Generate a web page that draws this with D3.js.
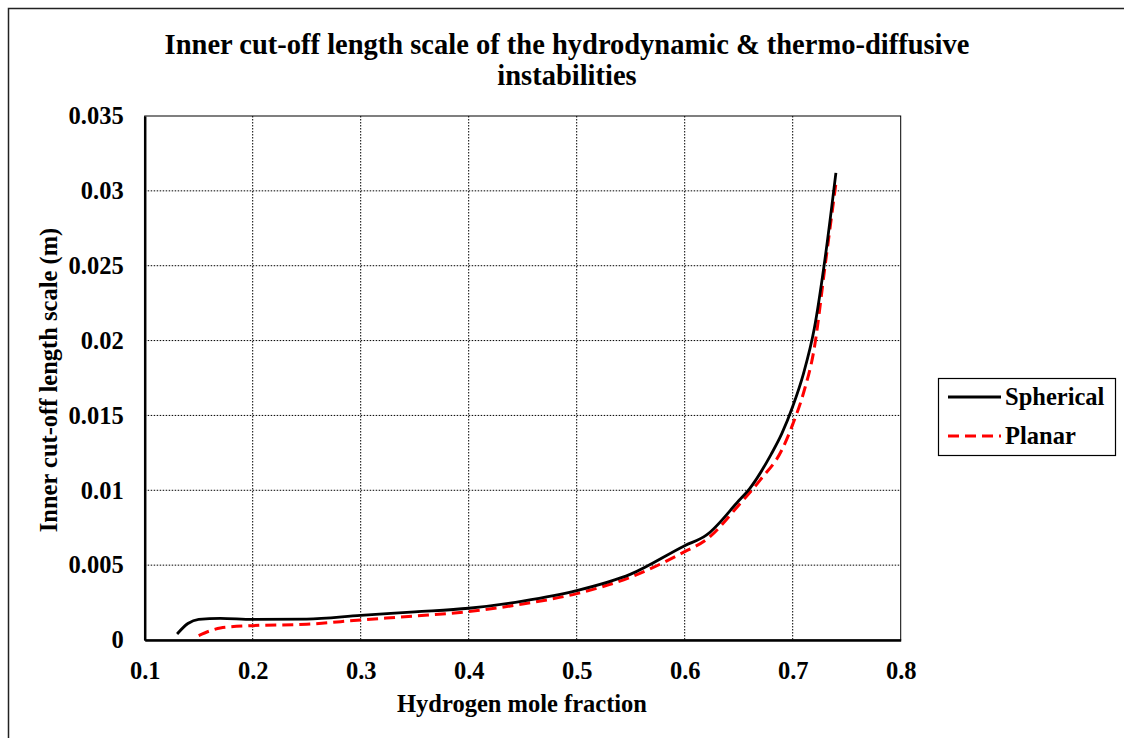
<!DOCTYPE html>
<html>
<head>
<meta charset="utf-8">
<script src="https://cdn.jsdelivr.net/npm/d3@7"></script>
<style>
  html, body { margin: 0; padding: 0; background: #fff; }
  svg { display: block; }
  text { font-family: "Liberation Serif", "Times New Roman", serif; font-weight: bold; fill: #000; }
</style>
</head>
<body>
<svg id="chart" width="1124" height="738"></svg>
<script>
// Hydrogen mole fraction (x) and inner cut-off length scale in metres (y)
const sphericalX = [0.13, 0.14, 0.15, 0.17, 0.20, 0.25, 0.30, 0.35, 0.40, 0.45, 0.50, 0.55, 0.60, 0.62, 0.65, 0.66, 0.68, 0.69, 0.70, 0.71, 0.72, 0.73, 0.74];
const sphericalY = [0.0004, 0.0011, 0.00138, 0.00145, 0.00138, 0.0014, 0.00165, 0.00188, 0.00212, 0.0026, 0.0033, 0.0044, 0.0063, 0.0070, 0.0093, 0.0101, 0.0124, 0.0138, 0.0156, 0.0178, 0.0208, 0.0255, 0.0312];

const planarX = [0.15, 0.16, 0.17, 0.20, 0.25, 0.30, 0.35, 0.40, 0.45, 0.50, 0.55, 0.60, 0.62, 0.65, 0.67, 0.69, 0.70, 0.71, 0.72, 0.73, 0.74];
const planarY = [0.0003, 0.0006, 0.0008, 0.00096, 0.00105, 0.00134, 0.0016, 0.0019, 0.0024, 0.0031, 0.0042, 0.0059, 0.0067, 0.0090, 0.0107, 0.0127, 0.0144, 0.0165, 0.0195, 0.0250, 0.0305];

const xTicks = [0.1, 0.2, 0.3, 0.4, 0.5, 0.6, 0.7, 0.8];
const yTicks = [0, 0.005, 0.01, 0.015, 0.02, 0.025, 0.03, 0.035];
const yTickLabels = ["0", "0.005", "0.01", "0.015", "0.02", "0.025", "0.03", "0.035"];

const seriesNames = ["Spherical", "Planar"];
const titleLines = ["Inner cut-off length scale of the hydrodynamic & thermo-diffusive", "instabilities"];
const xTitle = "Hydrogen mole fraction";
const yTitle = "Inner cut-off length scale (m)";

const svg = d3.select("#chart");

// outer chart frame
svg.append("rect")
  .attr("x", 8.5).attr("y", 8.5).attr("width", 1130).attr("height", 740)
  .attr("fill", "none").attr("stroke", "#222").attr("stroke-width", 1.5);

const plot = { left: 144.7, right: 900.7, top: 116, bottom: 640 };

const x = d3.scaleLinear().domain([0.1, 0.8]).range([plot.left, plot.right]);
const y = d3.scaleLinear().domain([0, 0.035]).range([plot.bottom, plot.top]);

// dotted grid
const grid = svg.append("g");
grid.selectAll("line.vx").data(xTicks.slice(1, -1)).join("line")
  .attr("x1", d => x(d)).attr("x2", d => x(d))
  .attr("y1", plot.top).attr("y2", plot.bottom)
  .attr("stroke", "#000").attr("stroke-width", 1).attr("stroke-dasharray", "1.5,1.5");
grid.selectAll("line.hy").data(yTicks.slice(1, -1)).join("line")
  .attr("y1", d => y(d)).attr("y2", d => y(d))
  .attr("x1", plot.left).attr("x2", plot.right)
  .attr("stroke", "#000").attr("stroke-width", 1).attr("stroke-dasharray", "1.5,1.5");

// plot area border
svg.append("rect")
  .attr("x", plot.left).attr("y", plot.top)
  .attr("width", plot.right - plot.left).attr("height", plot.bottom - plot.top)
  .attr("fill", "none").attr("stroke", "#000").attr("stroke-width", 1);

// axes
const xAxis = d3.axisBottom(x).tickValues(xTicks).tickSize(0)
  .tickFormat(d3.format(".1f"));
const gx = svg.append("g").attr("transform", `translate(0,${plot.bottom})`).call(xAxis);
gx.select(".domain").attr("stroke", "#000").attr("stroke-width", 2.5);
gx.selectAll("text").style("font-size", "24.5px").attr("y", 39).attr("dy", 0);

const yAxis = d3.axisLeft(y).tickValues(yTicks).tickSize(0).tickPadding(21)
  .tickFormat((d, i) => yTickLabels[i]);
const gy = svg.append("g").attr("transform", `translate(${plot.left},0)`).call(yAxis);
gy.select(".domain").attr("stroke", "#000").attr("stroke-width", 2.5);
gy.selectAll("text").style("font-size", "24.5px");

// series lines
const line = d3.line().x(d => x(d[0])).y(d => y(d[1])).curve(d3.curveMonotoneX);
const sphericalData = sphericalX.map((v, i) => [v, sphericalY[i]]);
const planarData = planarX.map((v, i) => [v, planarY[i]]);

svg.append("path").datum(planarData).attr("d", line)
  .attr("fill", "none").attr("stroke", "#ff0000").attr("stroke-width", 3)
  .attr("stroke-dasharray", "11,6");
svg.append("path").datum(sphericalData).attr("d", line)
  .attr("fill", "none").attr("stroke", "#000").attr("stroke-width", 2.8);

// titles
svg.append("text").attr("x", 567).attr("y", 54).attr("text-anchor", "middle")
  .style("font-size", "28.5px")
  .selectAll("tspan").data(titleLines).join("tspan")
  .attr("x", 567).attr("dy", (d, i) => i === 0 ? 0 : 31).text(d => d);

svg.append("text").attr("x", 522).attr("y", 712).attr("text-anchor", "middle")
  .style("font-size", "24.5px").text(xTitle);

svg.append("text").attr("transform", "translate(57,380) rotate(-90)")
  .attr("text-anchor", "middle").style("font-size", "24.5px").text(yTitle);

// legend
const legend = svg.append("g");
legend.append("rect").attr("x", 938.5).attr("y", 378.5).attr("width", 177).attr("height", 77)
  .attr("fill", "#fff").attr("stroke", "#000").attr("stroke-width", 1.2);
const legendRows = [
  { name: seriesNames[0], color: "#000", dash: null, cy: 397 },
  { name: seriesNames[1], color: "#ff0000", dash: "11,6", cy: 436 }
];
legendRows.forEach(r => {
  legend.append("line").attr("x1", 948).attr("x2", 1001).attr("y1", r.cy).attr("y2", r.cy)
    .attr("stroke", r.color).attr("stroke-width", 3)
    .attr("stroke-dasharray", r.dash);
  legend.append("text").attr("x", 1005).attr("y", r.cy + 8).style("font-size", "24.5px").text(r.name);
});
</script>
</body>
</html>
